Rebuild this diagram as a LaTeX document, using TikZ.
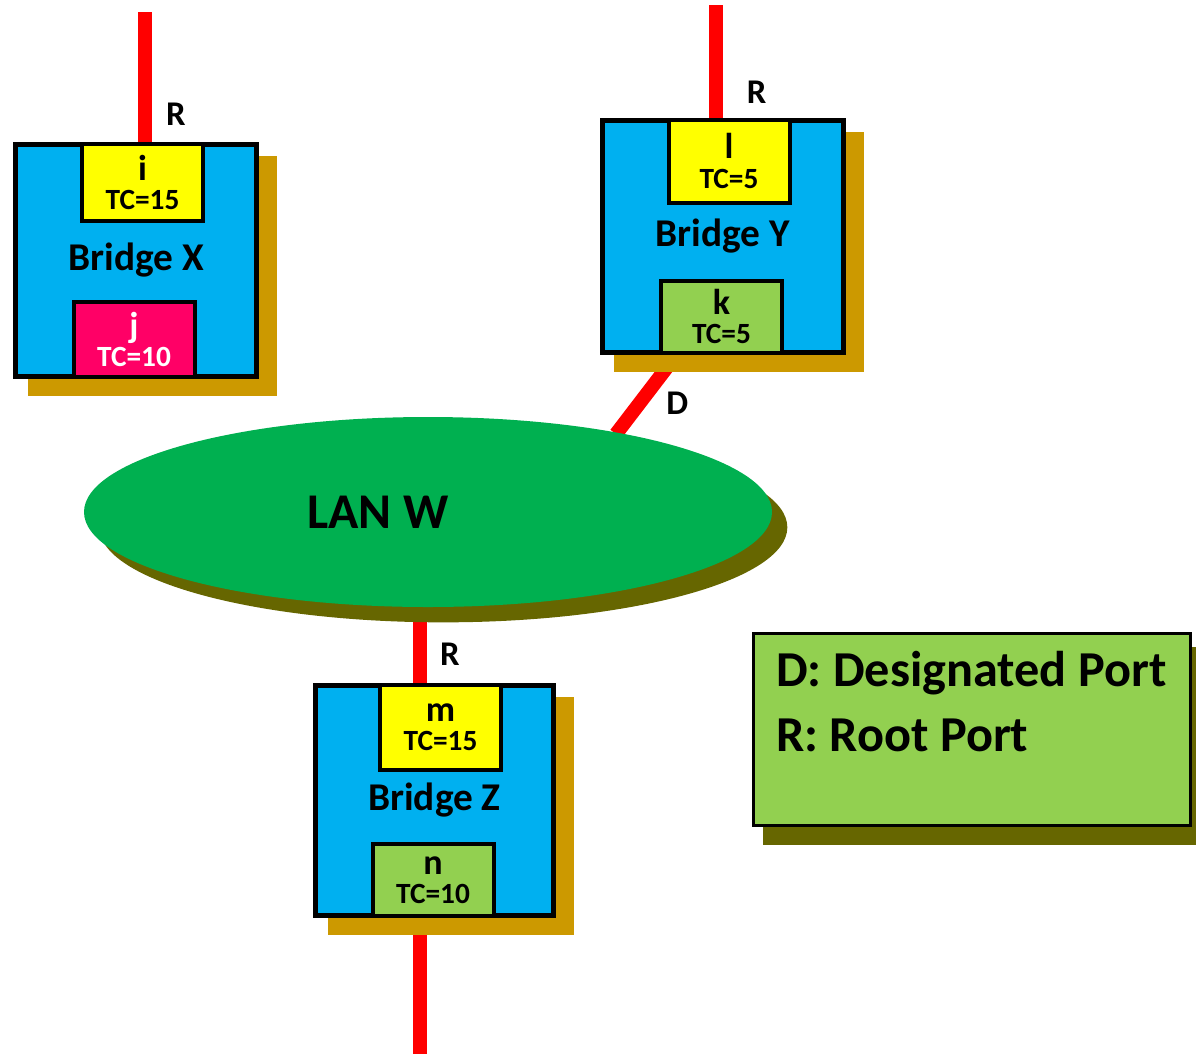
\documentclass[tikz,border=0pt]{standalone}
\usepackage{fontspec}
\setmainfont{Carlito}
\usetikzlibrary{positioning, shapes.geometric, shadows, backgrounds}

\definecolor{bridgeblue}{HTML}{00B0F0}
\definecolor{portyellow}{HTML}{FFFF00}
\definecolor{portpink}{HTML}{FF0066}
\definecolor{portgreen}{HTML}{92D050}
\definecolor{langreen}{HTML}{00B050}
\definecolor{shadowgold}{HTML}{CC9900}
\definecolor{shadowolive}{HTML}{666600}
\definecolor{linkred}{HTML}{FF0000}

\def\u{0.75pt}
\newcommand\bridgefont{\bfseries\fontsize{29.5}{30}\selectfont}
\newcommand\letterfont{\bfseries\fontsize{27}{22}\selectfont}
\newcommand\tcfont{\bfseries\fontsize{22}{22}\selectfont}
\newcommand\rfont{\bfseries\fontsize{26}{28}\selectfont}
\newcommand\lanfont{\bfseries\fontsize{37.5}{40}\selectfont}
\newcommand\legfont{\bfseries\fontsize{37.7}{49}\selectfont}

\begin{document}
\begin{tikzpicture}[x=0.75pt, y=-0.75pt,
    bridge/.style={rectangle, draw=black, line width=3.75pt, fill=bridgeblue,
        minimum width=241*\u, minimum height=232*\u, font=\bridgefont,
        drop shadow={shadow xshift=12pt, shadow yshift=-11.5pt, shadow scale=1.035, fill=shadowgold, opacity=1}},
    port/.style={rectangle, draw=black, line width=3pt, minimum width=121*\u,
        inner sep=0pt, align=center, font=\tcfont},
    link/.style={draw=linkred, line width=10.5pt},
    rlbl/.style={font=\rfont, inner sep=0pt},
    lan/.style={ellipse, fill=langreen, inner sep=0pt,
        minimum width=688*\u, minimum height=190*\u,
        drop shadow={shadow xshift=11.5pt, shadow yshift=-11.5pt, fill=shadowolive, opacity=1}},
    legend/.style={rectangle, draw=black, line width=2.25pt, fill=portgreen,
        minimum width=437*\u, minimum height=192*\u,
        drop shadow={shadow xshift=12pt, shadow yshift=-12pt, shadow scale=1.03, fill=shadowolive, opacity=1}},
    legtext/.style={font=\legfont, align=left, inner sep=0pt}]

    % Page frame
    \useasboundingbox (0,0) rectangle (1196,1054);

    % LAN
    \node[lan] (lan) at (428,512) {};
    \node[font=\lanfont] (lanw) at ([xshift=-50*\u]lan.center) {LAN W};

    % Bridges
    \node[bridge] (bx) at (136,260.5) {Bridge X};
    \node[bridge] (by) at (722.5,236) {Bridge Y};
    \node[bridge, minimum width=238*\u, minimum height=230*\u] (bz) at (434.5,800.5) {Bridge Z};

    % Ports
    \node[port, fill=portyellow, minimum height=77*\u, below=0pt of bx.north, xshift=6.5*\u] (pi) {{\letterfont i}\\TC=15};
    \node[port, fill=portpink, text=white, minimum height=75*\u, above=0pt of bx.south, xshift=-2*\u] (pj) {{\letterfont j}\\TC=10};
    \node[port, fill=portyellow, minimum height=83*\u, below=0pt of by.north, xshift=6.5*\u] (pl) {{\letterfont l}\\TC=5};
    \node[port, fill=portgreen, minimum height=72*\u, above=0pt of by.south, xshift=-1*\u] (pk) {{\letterfont k}\\TC=5};
    \node[port, fill=portyellow, minimum height=85*\u, below=0pt of bz.north, xshift=6*\u] (pm) {{\letterfont m}\\TC=15};
    \node[port, fill=portgreen, minimum height=72*\u, above=0pt of bz.south, xshift=-1.5*\u] (pn) {{\letterfont n}\\TC=10};

    % Legend
    \node[legend] (leg) at (972,729.5) {};
    \node[legtext, anchor=north west] (legt) at ([xshift=18pt, yshift=-14pt]leg.north west) {D: Designated Port\\R: Root Port};

    % Links
    \coordinate (xtop) at (145,12);
    \coordinate (ytop) at (715.5,5);
    \coordinate (dtop) at (668,366);
    \coordinate (dlan) at (616,434);
    \coordinate (zx) at (420,600);
    \coordinate (zbot) at (420,1054);
    \begin{scope}[on background layer]
        \draw[link] (xtop) -- (xtop |- pi.north) node[rlbl, pos=.79, xshift=31*\u] (rx) {R};
        \draw[link] (ytop) -- (ytop |- pl.north) node[rlbl, pos=.78, xshift=41*\u] (ry) {R};
        \draw[link] (dtop) -- (dlan) node[rlbl, pos=.55, xshift=38*\u] (dy) {D};
        \draw[link] (zx |- lan.center) -- (zx |- pm.north) node[rlbl, pos=.83, xshift=30*\u] (rz) {R};
        \draw[link] (zx |- bz.south) -- (zbot);
    \end{scope}

\end{tikzpicture}
\end{document}
